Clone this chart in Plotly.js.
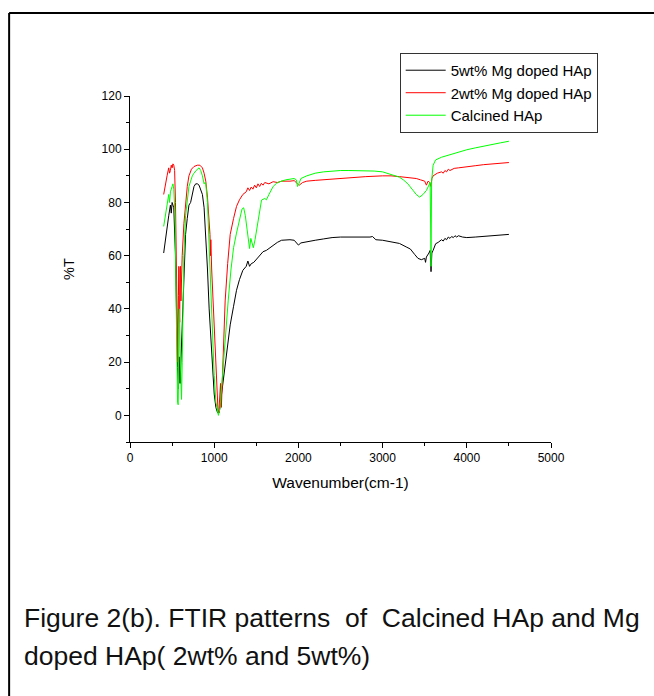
<!DOCTYPE html>
<html>
<head>
<meta charset="utf-8">
<script src="https://cdn.plot.ly/plotly-3.0.1.min.js"></script>
<style>
html,body{margin:0;padding:0;background:#fff;}
#chart{width:654px;height:696px;}
</style>
</head>
<body>
<div id="chart"></div>
<script>
// ---- data ----
const seriesNames = ["5wt% Mg doped HAp", "2wt% Mg doped HAp", "Calcined HAp"];
const seriesColors = ["#000000", "#ff0000", "#00ff00"];

const wn5 = [400,420,440,460,480,490,500,520,540,555,565,575,585,595,605,620,640,660,680,700,720,740,760,780,800,820,840,860,880,900,920,940,960,980,1000,1020,1040,1060,1080,1100,1130,1160,1190,1230,1265,1300,1340,1380,1400,1420,1440,1470,1500,1540,1580,1620,1660,1700,1750,1800,1850,1900,1950,1980,2000,2030,2060,2100,2200,2300,2400,2500,2600,2700,2800,2850,2880,2920,3000,3100,3200,3280,3330,3380,3420,3460,3500,3510,3520,3550,3565,3575,3585,3600,3630,3660,3700,3720,3740,3760,3780,3800,3820,3840,3860,3880,3900,3950,4000,4100,4200,4300,4400,4500];
const t5 = [61,66,72,75,79,76,80,78,60,30,18,10,22,12,20,35,55,68,74,79,80,83,86,87,87,86.5,85,83,78,68,55,40,28,15,8,3,1,1,6,13,19,27,34,41,47,51,54.5,56,58,56,57,57.5,58.5,60,61.5,62,63,64,65,65.8,66,66,65.8,64.5,64,64.8,65,65,65.8,66.3,66.8,67,67,67,66.8,67,67.2,66,65.8,65.2,64.6,63.3,62.5,60.5,59,58.5,59,57.5,59.5,61,62,54,61,62,64.5,65,66,65.5,66.5,66,67,66.5,67.2,66.8,67.5,67,67.5,67,66.8,67,67.2,67.5,67.7,68];

const wn2 = [400,420,440,460,470,480,490,500,510,520,530,540,550,560,568,575,580,585,590,595,600,605,610,620,640,660,680,700,730,760,800,830,860,880,900,920,940,950,955,960,970,990,1010,1030,1045,1055,1065,1075,1085,1095,1110,1130,1160,1190,1230,1265,1300,1340,1380,1400,1420,1440,1460,1480,1500,1520,1540,1560,1580,1600,1650,1700,1750,1800,1900,1950,1990,2010,2050,2100,2200,2400,2600,2800,3000,3100,3200,3300,3400,3450,3500,3520,3540,3560,3575,3585,3600,3650,3700,3720,3740,3760,3780,3800,3850,3900,4000,4100,4200,4300,4400,4500];
const t2 = [83,87,90,93,91,92,94,93,94.5,94,92,80,50,25,20,45,56,40,35,55,56,43,50,60,72,80,86,90,92.5,93.5,94,94,93,91,88,82,72,68,60,66,55,40,25,8,2,1,5,12,3,12,28,43,57,68,74,78.5,81,83,84,85.5,84.5,85.8,85,86.5,85.5,87,86,87.2,86.5,87.5,87,87.8,87.5,88,88,88.2,87,86.5,87.5,88,88.3,88.8,89.3,89.7,90,90,89.7,89.3,89,88.5,88,86.5,88,87.5,86,89,90,91,91.5,91,92,91.5,92.5,92,92.8,93,93.5,93.8,94.2,94.5,94.7,95];

const wnC = [400,420,440,460,470,480,500,510,520,535,545,555,565,572,580,588,595,605,612,620,630,640,660,680,700,720,740,760,780,800,820,840,860,870,880,890,900,920,940,960,980,1000,1020,1040,1050,1070,1090,1107,1130,1166,1200,1230,1265,1300,1330,1350,1370,1390,1405,1420,1435,1450,1465,1485,1502,1530,1562,1600,1620,1650,1700,1740,1780,1850,1950,1975,1990,2005,2030,2100,2200,2300,2400,2500,2600,2700,2800,2900,3000,3100,3200,3250,3300,3360,3400,3440,3480,3520,3550,3565,3575,3582,3600,3630,3700,3800,3900,4000,4100,4200,4300,4400,4500];
const tC = [71,75,79,83,80,84,86,87,85,75,50,20,5,4,20,40,25,8,6,20,40,60,75,82,86,88,90,91,92,92.5,93,92,90,88,87,87.5,87,80,62,45,28,15,5,1,0,3,12,18,30,43,55,63,68.5,74,77.5,78,75,70,66,62.7,66.5,64,63,66,69.6,75,80.9,81.5,81,83,86,87.2,87.8,88.5,89,88.5,86,87,89,90,91,91.5,91.8,92,92,92,92,91.8,91.5,90.5,89.5,88.4,87,84.6,83,82,83,84.5,87,87.5,56,88,94,96,97,98,99,99.8,100.5,101.2,101.8,102.4,103];

const xTitle = "Wavenumber(cm-1)";
const yTitle = "%T";
const captionLines = ["Figure 2(b). FTIR patterns  of  Calcined HAp and Mg", "doped HAp( 2wt% and 5wt%)"];

// ---- chart ----
const xs = [wn5, wn2, wnC];
const ys = [t5, t2, tC];
const traces = xs.map((x, i) => ({
  x: x, y: ys[i], type: "scatter", mode: "lines",
  name: seriesNames[i],
  line: {color: seriesColors[i], width: 1}
}));

const font = "Arial, 'Liberation Sans', sans-serif";
const layout = {
  width: 654, height: 696,
  paper_bgcolor: "#fff", plot_bgcolor: "#fff",
  margin: {l: 130, r: 102.5, t: 96, b: 254.4},
  showlegend: true,
  legend: {
    x: 0.6406, y: 1.1244, xanchor: "left", yanchor: "top",
    bordercolor: "#333", borderwidth: 1, bgcolor: "#fff",
    font: {family: font, size: 15, color: "#000"},
    itemwidth: 40, tracegroupgap: 0
  },
  xaxis: {
    range: [0, 5000], tick0: 0, dtick: 1000,
    showgrid: false, zeroline: false,
    showline: true, linecolor: "#000", linewidth: 1,
    ticks: "outside", ticklen: 5, tickcolor: "#000", tickwidth: 1,
    minor: {dtick: 500, ticks: "outside", ticklen: 3, tickcolor: "#000", showgrid: false},
    tickfont: {family: font, size: 12, color: "#000"},
    title: {text: xTitle, font: {family: font, size: 15.5, color: "#000"}, standoff: 12}
  },
  yaxis: {
    range: [-10, 120], tick0: 0, dtick: 20,
    showgrid: false, zeroline: false,
    showline: true, linecolor: "#000", linewidth: 1,
    ticks: "outside", ticklen: 5, tickcolor: "#000", tickwidth: 1,
    minor: {dtick: 10, ticks: "outside", ticklen: 3, tickcolor: "#000", showgrid: false},
    tickfont: {family: font, size: 12, color: "#000"},
    title: {text: yTitle, font: {family: font, size: 14.5, color: "#000"}, standoff: 23}
  },
  shapes: [
    {type: "line", xref: "paper", yref: "paper", x0: -0.2871, x1: 1.4, y0: 1.2402, y1: 1.2402, line: {color: "#000", width: 2}},
    {type: "line", xref: "paper", yref: "paper", x0: -0.2871, x1: -0.2871, y0: 1.2402, y1: -0.8, line: {color: "#000", width: 2}}
  ],
  annotations: [
    {text: captionLines[0], xref: "paper", yref: "paper", x: -0.2562, y: -0.5075,
     xanchor: "left", yanchor: "middle", align: "left", showarrow: false,
     font: {family: font, size: 26.5, color: "#111"}},
    {text: captionLines[1], xref: "paper", yref: "paper", x: -0.2562, y: -0.6175,
     xanchor: "left", yanchor: "middle", align: "left", showarrow: false,
     font: {family: font, size: 26.5, color: "#111"}}
  ]
};

Plotly.newPlot("chart", traces, layout, {displayModeBar: false, staticPlot: true});
</script>
</body>
</html>
